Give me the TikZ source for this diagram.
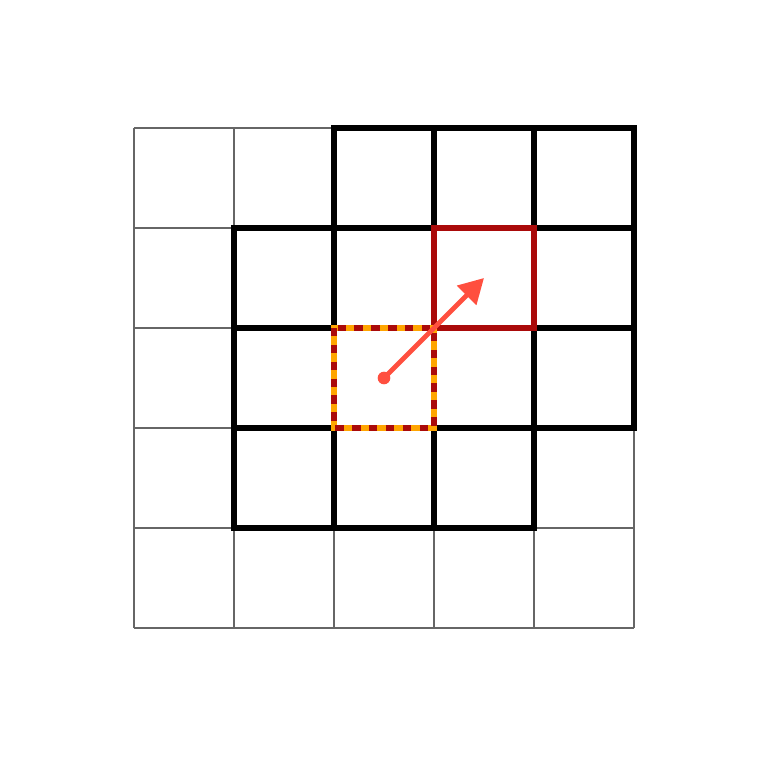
\documentclass[tikz,border=0pt]{standalone}
\usepackage{xcolor}
\definecolor{gridgray}{HTML}{666666}
\definecolor{hitred}{HTML}{AA0A0A}
\definecolor{seenorange}{HTML}{FFA500}
\definecolor{moveorange}{HTML}{FF4F3F}
\usetikzlibrary{arrows.meta, positioning}

\begin{document}
\begin{tikzpicture}[
    cell/.style={minimum size=1cm, inner sep=0pt, outer sep=0pt},
    thingrid/.style={gridgray, line width=0.4pt},
    reach/.style={draw=black, line width=1.7pt},
    target/.style={cell, draw=hitred, line width=1.5pt},
    origin/.style={cell, draw=seenorange, line width=1.5pt},
    origindash/.style={hitred, line width=1.5pt, dash pattern=on 2.4pt off 2.4pt},
    move/.style={-{Triangle[length=7pt, width=7.5pt]}, moveorange, line width=1.4pt, line cap=round},
]
\useasboundingbox (-1.34,-1.28) rectangle (6.34,6.28);

% plain board
\draw[thingrid] (0,0) grid (5,5);

% reachable cells
\foreach \x/\y in {2/4, 3/4, 4/4, 1/3, 2/3, 3/3, 4/3, 1/2, 2/2, 3/2, 4/2, 1/1, 2/1, 3/1}
    \draw[reach] (\x,\y) rectangle ++(1,1);

% start and goal cells
\node[target] (goal) at (3.5,3.5) {};
\node[origin] (start) at (2.5,2.5) {};
\draw[origindash] (start.north west) rectangle (start.south east);

\fill[moveorange] (start.center) circle (1.8pt);
\draw[move] (start.center) -- (goal.center);
\end{tikzpicture}
\end{document}
